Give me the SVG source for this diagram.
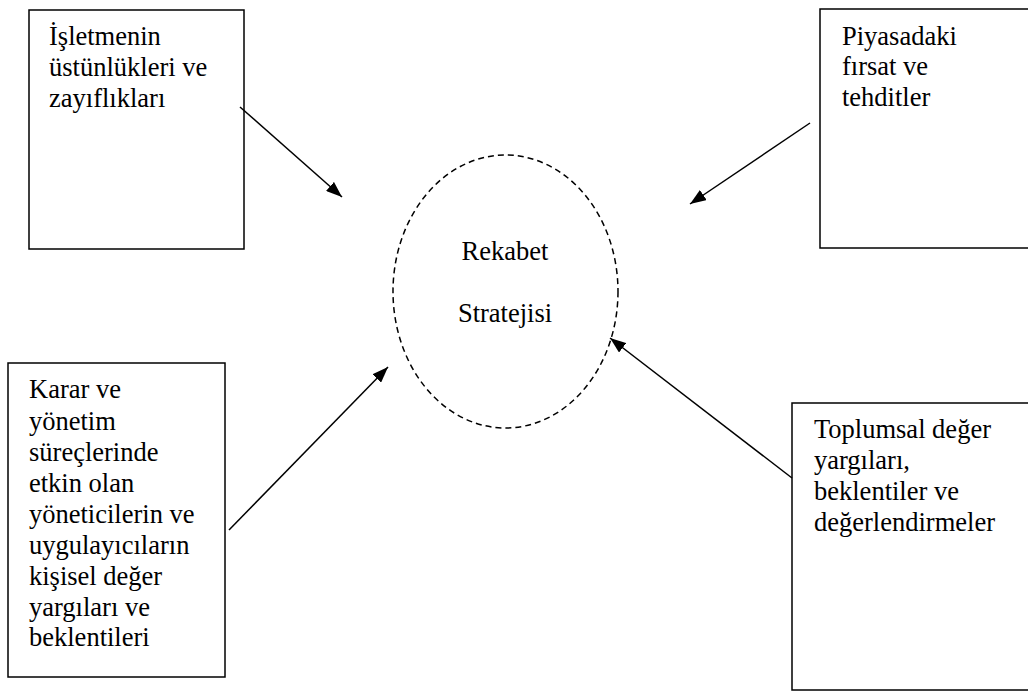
<svg xmlns="http://www.w3.org/2000/svg" width="1028" height="691" viewBox="0 0 1028 691">
<style>
.box{fill:#fff;stroke:#000;stroke-width:1.5}
.t{font-family:'Liberation Serif','Times New Roman',Times,serif;font-size:26.5px;fill:#000}
.c{stroke:#000;stroke-width:1.5;fill:none}
</style>
<defs>
<marker id="ah" markerWidth="16" markerHeight="12" refX="16" refY="6" orient="auto" markerUnits="userSpaceOnUse" viewBox="0 0 16 12">
<path d="M0,0 L16,6 L0,12 z" fill="#000"/>
</marker>
</defs>
<rect width="1028" height="691" fill="#fff"/>
<g id="n1">
<rect class="box" x="29" y="10" width="215" height="239"/>
<text class="t"><tspan x="49" y="45">İşletmenin</tspan><tspan x="49" y="76">üstünlükleri ve</tspan><tspan x="49" y="107">zayıflıkları</tspan></text>
</g>
<g id="n2">
<rect class="box" x="820" y="9" width="215" height="239"/>
<text class="t"><tspan x="842" y="45">Piyasadaki</tspan><tspan x="842" y="75">fırsat ve</tspan><tspan x="842" y="106">tehditler</tspan></text>
</g>
<g id="n3">
<rect class="box" x="8" y="363" width="217" height="314"/>
<text class="t"><tspan x="29" y="398">Karar ve</tspan><tspan x="29" y="429.5">yönetim</tspan><tspan x="29" y="461">süreçlerinde</tspan><tspan x="29" y="492">etkin olan</tspan><tspan x="29" y="523">yöneticilerin ve</tspan><tspan x="29" y="554">uygulayıcıların</tspan><tspan x="29" y="585">kişisel değer</tspan><tspan x="29" y="616">yargıları ve</tspan><tspan x="29" y="646">beklentileri</tspan></text>
</g>
<g id="n4">
<rect class="box" x="792" y="403" width="245" height="287"/>
<text class="t"><tspan x="814" y="438">Toplumsal değer</tspan><tspan x="814" y="469">yargıları,</tspan><tspan x="814" y="500">beklentiler ve</tspan><tspan x="814" y="531">değerlendirmeler</tspan></text>
</g>
<g id="center">
<ellipse cx="505.5" cy="291.5" rx="112.5" ry="136.5" fill="none" stroke="#000" stroke-width="1.5" stroke-dasharray="6,4"/>
<text class="t" text-anchor="middle"><tspan x="505" y="260">Rekabet</tspan><tspan x="505" y="322">Stratejisi</tspan></text>
</g>
<g id="connectors">
<line class="c" x1="240" y1="107" x2="342" y2="197" marker-end="url(#ah)"/>
<line class="c" x1="810" y1="123" x2="690" y2="204" marker-end="url(#ah)"/>
<line class="c" x1="229" y1="530" x2="388" y2="367" marker-end="url(#ah)"/>
<line class="c" x1="792" y1="478" x2="610" y2="338" marker-end="url(#ah)"/>
</g>
</svg>
